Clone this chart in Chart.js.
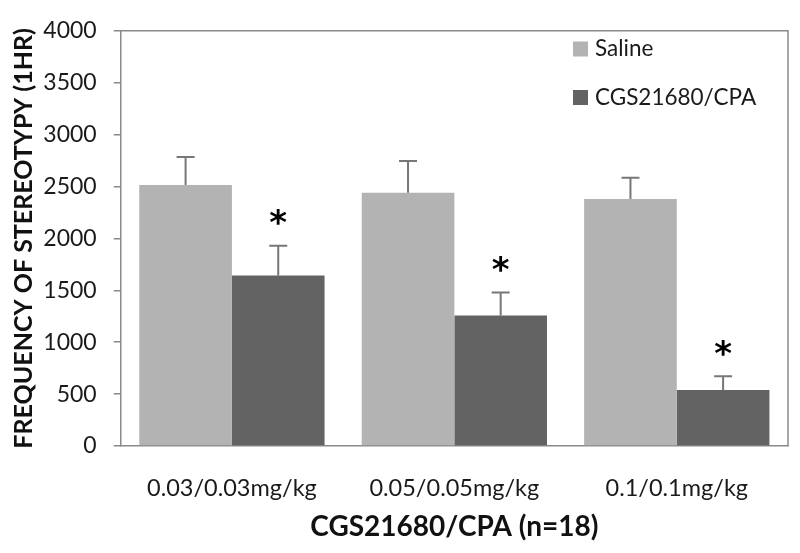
<!DOCTYPE html>
<html><head><meta charset="utf-8">
<script src="https://cdn.jsdelivr.net/npm/chart.js@4.4.1/dist/chart.umd.min.js"></script>
<style>html,body{margin:0;padding:0;background:#fff}#wrap{width:800px;height:553px}</style>
</head>
<body><div id="wrap"><canvas id="c" width="800" height="553"></canvas></div>
<script>
const categories = ['0.03/0.03mg/kg', '0.05/0.05mg/kg', '0.1/0.1mg/kg'];
const seriesNames = ['Saline', 'CGS21680/CPA'];
const salineValues = [2515, 2440, 2380];
const salineErrors = [270, 305, 205];
const cgsValues = [1642, 1258, 540];
const cgsErrors = [288, 220, 132];
const significant = [true, true, true];
const yMin = 0, yMax = 4000, yStep = 500;
const xTitle = 'CGS21680/CPA (n=18)';
const yTitle = 'FREQUENCY OF STEREOTYPY (1HR)';

const AXIS = '#8a8a8a';
const FONT = 'Lato';

const framePlugin = {
  id: 'frame',
  afterDraw(chart) {
    const {ctx, chartArea: a} = chart;
    ctx.save();
    ctx.strokeStyle = AXIS; ctx.lineWidth = 1.5;
    ctx.beginPath();
    ctx.moveTo(a.left, a.top); ctx.lineTo(a.right, a.top); ctx.lineTo(a.right, a.bottom);
    ctx.stroke();
    ctx.restore();
  }
};

const errorPlugin = {
  id: 'errs',
  afterDatasetsDraw(chart) {
    const {ctx} = chart;
    const ys = chart.scales.y;
    chart.data.datasets.forEach((ds, i) => {
      const meta = chart.getDatasetMeta(i);
      meta.data.forEach((el, j) => {
        const top = ys.getPixelForValue(ds.data[j] + ds.errors[j]);
        ctx.save();
        ctx.strokeStyle = '#777'; ctx.lineWidth = 2;
        ctx.beginPath();
        ctx.moveTo(el.x, el.y); ctx.lineTo(el.x, top);
        ctx.moveTo(el.x - 9, top); ctx.lineTo(el.x + 9, top);
        ctx.stroke();
        if (ds.marks && ds.marks[j]) {
          ctx.fillStyle = '#000';
          ctx.font = 'bold 34px "DejaVu Sans"';
          ctx.textAlign = 'center'; ctx.textBaseline = 'middle';
          ctx.fillText('*', el.x, top - 20);
        }
        ctx.restore();
      });
    });
  }
};

const legendPlugin = {
  id: 'customLegend',
  afterDraw(chart) {
    const {ctx} = chart;
    const x0 = 573, ys = [49, 97.5];
    chart.data.datasets.forEach((ds, i) => {
      ctx.save();
      ctx.fillStyle = ds.backgroundColor;
      ctx.fillRect(x0, ys[i] - 7.5, 15, 15);
      ctx.fillStyle = '#1a1a1a';
      ctx.font = '22.5px ' + FONT;
      ctx.textAlign = 'left'; ctx.textBaseline = 'middle';
      ctx.fillText(ds.label, x0 + 22, ys[i]);
      ctx.restore();
    });
  }
};

new Chart(document.getElementById('c').getContext('2d'), {
  type: 'bar',
  data: {
    labels: categories,
    datasets: [
      {label: seriesNames[0], data: salineValues, errors: salineErrors, backgroundColor: '#b3b3b3'},
      {label: seriesNames[1], data: cgsValues, errors: cgsErrors, marks: significant, backgroundColor: '#636363'}
    ]
  },
  options: {
    responsive: false, animation: false, devicePixelRatio: 1,
    layout: {padding: {top: 19, right: 12, left: 0, bottom: 0}},
    datasets: {bar: {categoryPercentage: 0.833, barPercentage: 1}},
    plugins: {legend: {display: false}, tooltip: {enabled: false}},
    scales: {
      x: {
        grid: {display: false, drawTicks: false},
        border: {display: true, color: AXIS, width: 1.5},
        ticks: {font: {family: FONT, size: 23.5}, color: '#1a1a1a', padding: 28.5},
        title: {display: true, text: xTitle, font: {family: FONT, size: 28, weight: 'bold'}, color: '#111', padding: {top: 0, bottom: 9}},
        afterFit(s) { s.height = 107; }
      },
      y: {
        min: yMin, max: yMax,
        ticks: {stepSize: yStep, font: {family: FONT, size: 23}, color: '#1a1a1a', padding: 17, callback: v => String(v)},
        grid: {drawOnChartArea: false, drawTicks: true, tickLength: 7, color: AXIS, lineWidth: 1.5},
        border: {display: true, color: AXIS, width: 1.5},
        title: {display: true, text: yTitle, font: {family: FONT, size: 25, weight: 'bold'}, color: '#111', padding: {top: 9, bottom: 0}},
        afterFit(s) { s.width = 120.7; }
      }
    }
  },
  plugins: [framePlugin, errorPlugin, legendPlugin]
});
</script>
</body></html>
